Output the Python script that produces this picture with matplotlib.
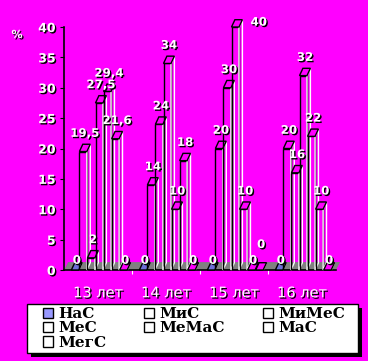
import matplotlib
matplotlib.use('Agg')
import matplotlib.pyplot as plt
import matplotlib.patheffects as pe
from matplotlib.patches import Polygon, Patch, Rectangle
import numpy as np

categories = ['13 лет', '14 лет', '15 лет', '16 лет']
series = ['НаС', 'МиС', 'МиМеС', 'МеС', 'МеМаС', 'МаС', 'МегС']
nas = [0, 0, 0, 0]
mis = [19.5, 14, 20, 20]
mimes = [2, 24, 30, 16]
mes = [27.5, 34, 40, 32]
memas = [29.4, 10, 10, 22]
mas = [21.6, 18, 0, 10]
megs = [0, 0, 0, 0]
data = [nas, mis, mimes, mes, memas, mas, megs]

MAG = '#FF00FF'
top_colors = ['#6F6FD8'] + [MAG] * 6
legend_colors = ['#9999FF'] + ['white'] * 6

W, H = 368, 361
fig = plt.figure(figsize=(W / 100, H / 100), dpi=100, facecolor=MAG)
ax = fig.add_axes([64 / W, 1 - 270 / H, 272 / W, 243 / H])
ax.set_facecolor('none')
ax.set_xlim(0, 4)
ax.set_ylim(0, 40)

shadow = [pe.withSimplePatchShadow(offset=(1, -1), shadow_rgbFace='black', alpha=1)]

x = np.arange(len(categories))
w = 0.11
step = 0.1185
first = 0.163
dx, dy = 0.05, 1.2

# floor
fh = 1.3
floor = Polygon([(0, 0), (4, 0), (4 + 0.06, fh), (0.06, fh)], closed=True,
                facecolor='#808080', edgecolor='none', zorder=2, clip_on=False)
ax.add_patch(floor)

for j, vals in enumerate(data):
    pos = x + first + j * step
    ax.bar(pos, vals, w, color=MAG, lw=0, zorder=1)
    bars = ax.bar(pos, vals, w, fill=False, edgecolor='black', lw=1, zorder=3 + j * 0.1)
    for i, (b, v) in enumerate(zip(bars, vals)):
        x0 = b.get_x()
        x1 = x0 + b.get_width()
        h = b.get_height()
        ax.add_patch(Polygon([(x1, 0), (x1 + dx, dy), (x1 + dx, h + dy), (x1, h)], closed=True,
                             fill=False, edgecolor='white', lw=1, zorder=3.05 + j * 0.1, clip_on=False))
        ax.add_patch(Polygon([(x0, h), (x1, h), (x1 + dx, h + dy), (x0 + dx, h + dy)], closed=True,
                             facecolor=top_colors[j], edgecolor='black', lw=1, zorder=3.06 + j * 0.1,
                             clip_on=False))
        txt = f'{v:g}'.replace('.', ',')
        if v + 3 > 40:
            tx, ty, ha = x1 + dx + 0.12, v + 0.8, 'left'
        elif v == 0:
            prev_zero = j > 0 and data[j - 1][i] == 0
            tx, ty, ha = (x0 + x1 + dx) / 2, 4.2 if prev_zero else 1.6, 'center'
        else:
            tx, ty, ha = (x0 + x1 + dx) / 2, v + 3, 'center'
        ax.text(tx, ty, txt, ha=ha, va='center', fontsize=8.5, fontweight='bold',
                color='white', path_effects=shadow, zorder=10, clip_on=False)

for s in ['top', 'right']:
    ax.spines[s].set_visible(False)
ax.spines['left'].set_color('black')
ax.spines['bottom'].set_color('black')
ax.spines['left'].set_linewidth(1.2)
ax.spines['bottom'].set_linewidth(1.2)

ax.set_yticks(range(0, 41, 5))
ax.tick_params(axis='y', direction='out', length=3, color='black', labelsize=9,
               labelcolor='white', pad=3)
for t in ax.get_yticklabels():
    t.set_fontweight('bold')
    t.set_path_effects(shadow)

ax.set_xticks([1, 2, 3])
ax.set_xticklabels([])
ax.tick_params(axis='x', which='major', direction='out', length=3, color='white')
ax.set_xticks(x + 0.5, minor=True)
ax.set_xticklabels(categories, minor=True)
ax.tick_params(axis='x', which='minor', length=0, pad=11, labelsize=10.5, labelcolor='white')
for t in ax.get_xticklabels(minor=True):
    t.set_path_effects(shadow)

fig.text(17 / W, 1 - 35 / H, '%', ha='center', va='center', fontsize=8,
         fontweight='bold', color='white', path_effects=shadow)

# legend box with black drop shadow
bx0, bx1, by0, by1 = 27, 358, 304, 353
fig.patches.append(Rectangle(((bx0 + 4) / W, 1 - (by1 + 4) / H), (bx1 - bx0) / W, (by1 - by0) / H,
                             transform=fig.transFigure, facecolor='black', edgecolor='none', zorder=0))
fig.patches.append(Rectangle((bx0 / W, 1 - by1 / H), (bx1 - bx0) / W, (by1 - by0) / H,
                             transform=fig.transFigure, facecolor='white', edgecolor='black',
                             lw=1, zorder=0.5))

handles = [Patch(facecolor=c, edgecolor='black', lw=1) for c in legend_colors]
order = [0, 3, 6, 1, 4, 2, 5]
leg = fig.legend([handles[k] for k in order], [series[k] for k in order], ncol=3,
                 loc='center', bbox_to_anchor=(43 / W, 1 - by1 / H, 302 / W, (by1 - by0) / H),
                 mode='expand', prop=dict(family='DejaVu Serif', weight='bold', size=11),
                 frameon=False, handlelength=0.65, handleheight=0.65, handletextpad=0.35,
                 labelspacing=0.02, borderpad=0, borderaxespad=0)

fig.savefig('out.png', dpi=100, facecolor=MAG)
